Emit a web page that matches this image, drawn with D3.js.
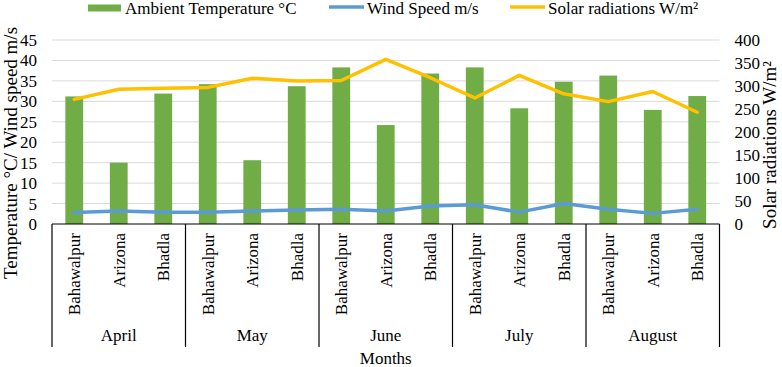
<!DOCTYPE html>
<html>
<head>
<meta charset="utf-8">
<script src="https://cdn.jsdelivr.net/npm/d3@7"></script>
<style>
  body { margin: 0; background: #fff; }
  svg { font-family: "Liberation Serif", "Times New Roman", serif; }
</style>
</head>
<body>
<svg width="782" height="367"></svg>
<script>
// data
var months = ["April", "May", "June", "July", "August"];
var cities = ["Bahawalpur", "Arizona", "Bhadla"];
var temperature = [31.2, 15.0, 31.9, 34.2, 15.6, 33.7, 38.3, 24.2, 36.8, 38.3, 28.3, 34.8, 36.3, 27.9, 31.3];
var windSpeed = [2.8, 3.2, 2.9, 2.9, 3.2, 3.4, 3.6, 3.2, 4.4, 4.7, 2.9, 5.0, 3.6, 2.6, 3.6];
var solar = [271, 293, 295, 297, 317, 311, 312, 358, 318, 274, 323, 283, 266, 288, 243];
var leftTicks = [0, 5, 10, 15, 20, 25, 30, 35, 40, 45];
var rightTicks = [0, 50, 100, 150, 200, 250, 300, 350, 400];

var rows = [];
months.forEach(function(m, i) {
  cities.forEach(function(c, j) {
    var k = i * cities.length + j;
    rows.push({ key: m + "-" + c, month: m, city: c, temp: temperature[k], wind: windSpeed[k], solar: solar[k] });
  });
});

var svg = d3.select("svg");
var pLeft = 52, pRight = 719.5, pTop = 40, pBottom = 224;

var x = d3.scaleBand().domain(rows.map(function(d) { return d.key; })).range([pLeft, pRight]).paddingInner(0.6).paddingOuter(0.3);
var step = x.step();
var yL = d3.scaleLinear().domain([0, 45]).range([pBottom, pTop]);
var yR = d3.scaleLinear().domain([0, 400]).range([pBottom, pTop]);

// gridlines
svg.append("g").selectAll("line").data(leftTicks.slice(1)).enter().append("line")
  .attr("x1", pLeft).attr("x2", pRight)
  .attr("y1", function(d) { return yL(d); }).attr("y2", function(d) { return yL(d); })
  .attr("stroke", "#d9d9d9").attr("stroke-width", 1);

// left axis labels
var gl = svg.append("g").attr("transform", "translate(" + pLeft + ",0)")
  .call(d3.axisLeft(yL).tickValues(leftTicks).tickSize(0).tickPadding(15));
gl.select(".domain").remove();
gl.selectAll("text").attr("font-family", "Liberation Serif").attr("font-size", 17).attr("fill", "#000");

// right axis labels
var gr = svg.append("g").attr("transform", "translate(" + pRight + ",0)")
  .call(d3.axisRight(yR).tickValues(rightTicks).tickSize(0).tickPadding(15));
gr.select(".domain").remove();
gr.selectAll("text").attr("font-family", "Liberation Serif").attr("font-size", 17).attr("fill", "#000");

// bars
svg.append("g").selectAll("rect").data(rows).enter().append("rect")
  .attr("x", function(d) { return x(d.key); })
  .attr("width", x.bandwidth())
  .attr("y", function(d) { return yL(d.temp); })
  .attr("height", function(d) { return pBottom - yL(d.temp); })
  .attr("fill", "#70ad47");

var cx = function(d) { return x(d.key) + x.bandwidth() / 2; };

svg.append("path").datum(rows)
  .attr("fill", "none").attr("stroke", "#5b9bd5").attr("stroke-width", 3.5).attr("stroke-linejoin", "round").attr("stroke-linecap", "round")
  .attr("d", d3.line().x(cx).y(function(d) { return yL(d.wind); }));

svg.append("path").datum(rows)
  .attr("fill", "none").attr("stroke", "#ffc000").attr("stroke-width", 3.5).attr("stroke-linejoin", "round").attr("stroke-linecap", "round")
  .attr("d", d3.line().x(cx).y(function(d) { return yR(d.solar); }));

// category axis (two levels)
var axisG = svg.append("g");
axisG.append("line").attr("x1", pLeft).attr("x2", pRight).attr("y1", pBottom).attr("y2", pBottom)
  .attr("stroke", "#000").attr("stroke-width", 1.2);
var seps = d3.range(months.length + 1).map(function(i) { return pLeft + i * cities.length * step; });
axisG.selectAll(".sep").data(seps).enter().append("line")
  .attr("x1", function(d) { return d; }).attr("x2", function(d) { return d; })
  .attr("y1", pBottom).attr("y2", 347)
  .attr("stroke", "#000").attr("stroke-width", 1.2);

axisG.selectAll(".city").data(rows).enter().append("text")
  .attr("transform", function(d) { return "translate(" + (cx(d) + 6) + ",233) rotate(-90)"; })
  .attr("text-anchor", "end")
  .attr("font-size", 17)
  .text(function(d) { return d.city; });

axisG.selectAll(".month").data(months).enter().append("text")
  .attr("x", function(d, i) { return pLeft + (i + 0.5) * cities.length * step; })
  .attr("y", 341)
  .attr("text-anchor", "middle")
  .attr("font-size", 17)
  .text(function(d) { return d; });

svg.append("text").attr("x", (pLeft + pRight) / 2).attr("y", 364).attr("text-anchor", "middle")
  .attr("font-size", 17).text("Months");

// axis titles
svg.append("text").attr("transform", "translate(17,153) rotate(-90)").attr("text-anchor", "middle")
  .attr("font-size", 19).text("Temperature °C/ Wind speed m/s");
svg.append("text").attr("transform", "translate(776,145) rotate(-90)").attr("text-anchor", "middle")
  .attr("font-size", 19).text("Solar radiations W/m²");

// legend
var legend = [
  { label: "Ambient Temperature °C", color: "#70ad47", type: "rect", x: 88 },
  { label: "Wind Speed m/s", color: "#5b9bd5", type: "line", x: 329 },
  { label: "Solar radiations W/m²", color: "#ffc000", type: "line", x: 510 }
];
var lg = svg.append("g").selectAll("g").data(legend).enter().append("g")
  .attr("transform", function(d) { return "translate(" + d.x + ",0)"; });
lg.filter(function(d) { return d.type == "rect"; }).append("rect")
  .attr("x", 0).attr("y", 4.5).attr("width", 33).attr("height", 7).attr("fill", function(d) { return d.color; });
lg.filter(function(d) { return d.type == "line"; }).append("line")
  .attr("x1", 0).attr("x2", 35).attr("y1", 7).attr("y2", 7)
  .attr("stroke", function(d) { return d.color; }).attr("stroke-width", 3.5);
lg.append("text").attr("x", function(d) { return d.type == "rect" ? 37 : 38; }).attr("y", 14)
  .attr("font-size", 17).text(function(d) { return d.label; });
</script>
</body>
</html>
